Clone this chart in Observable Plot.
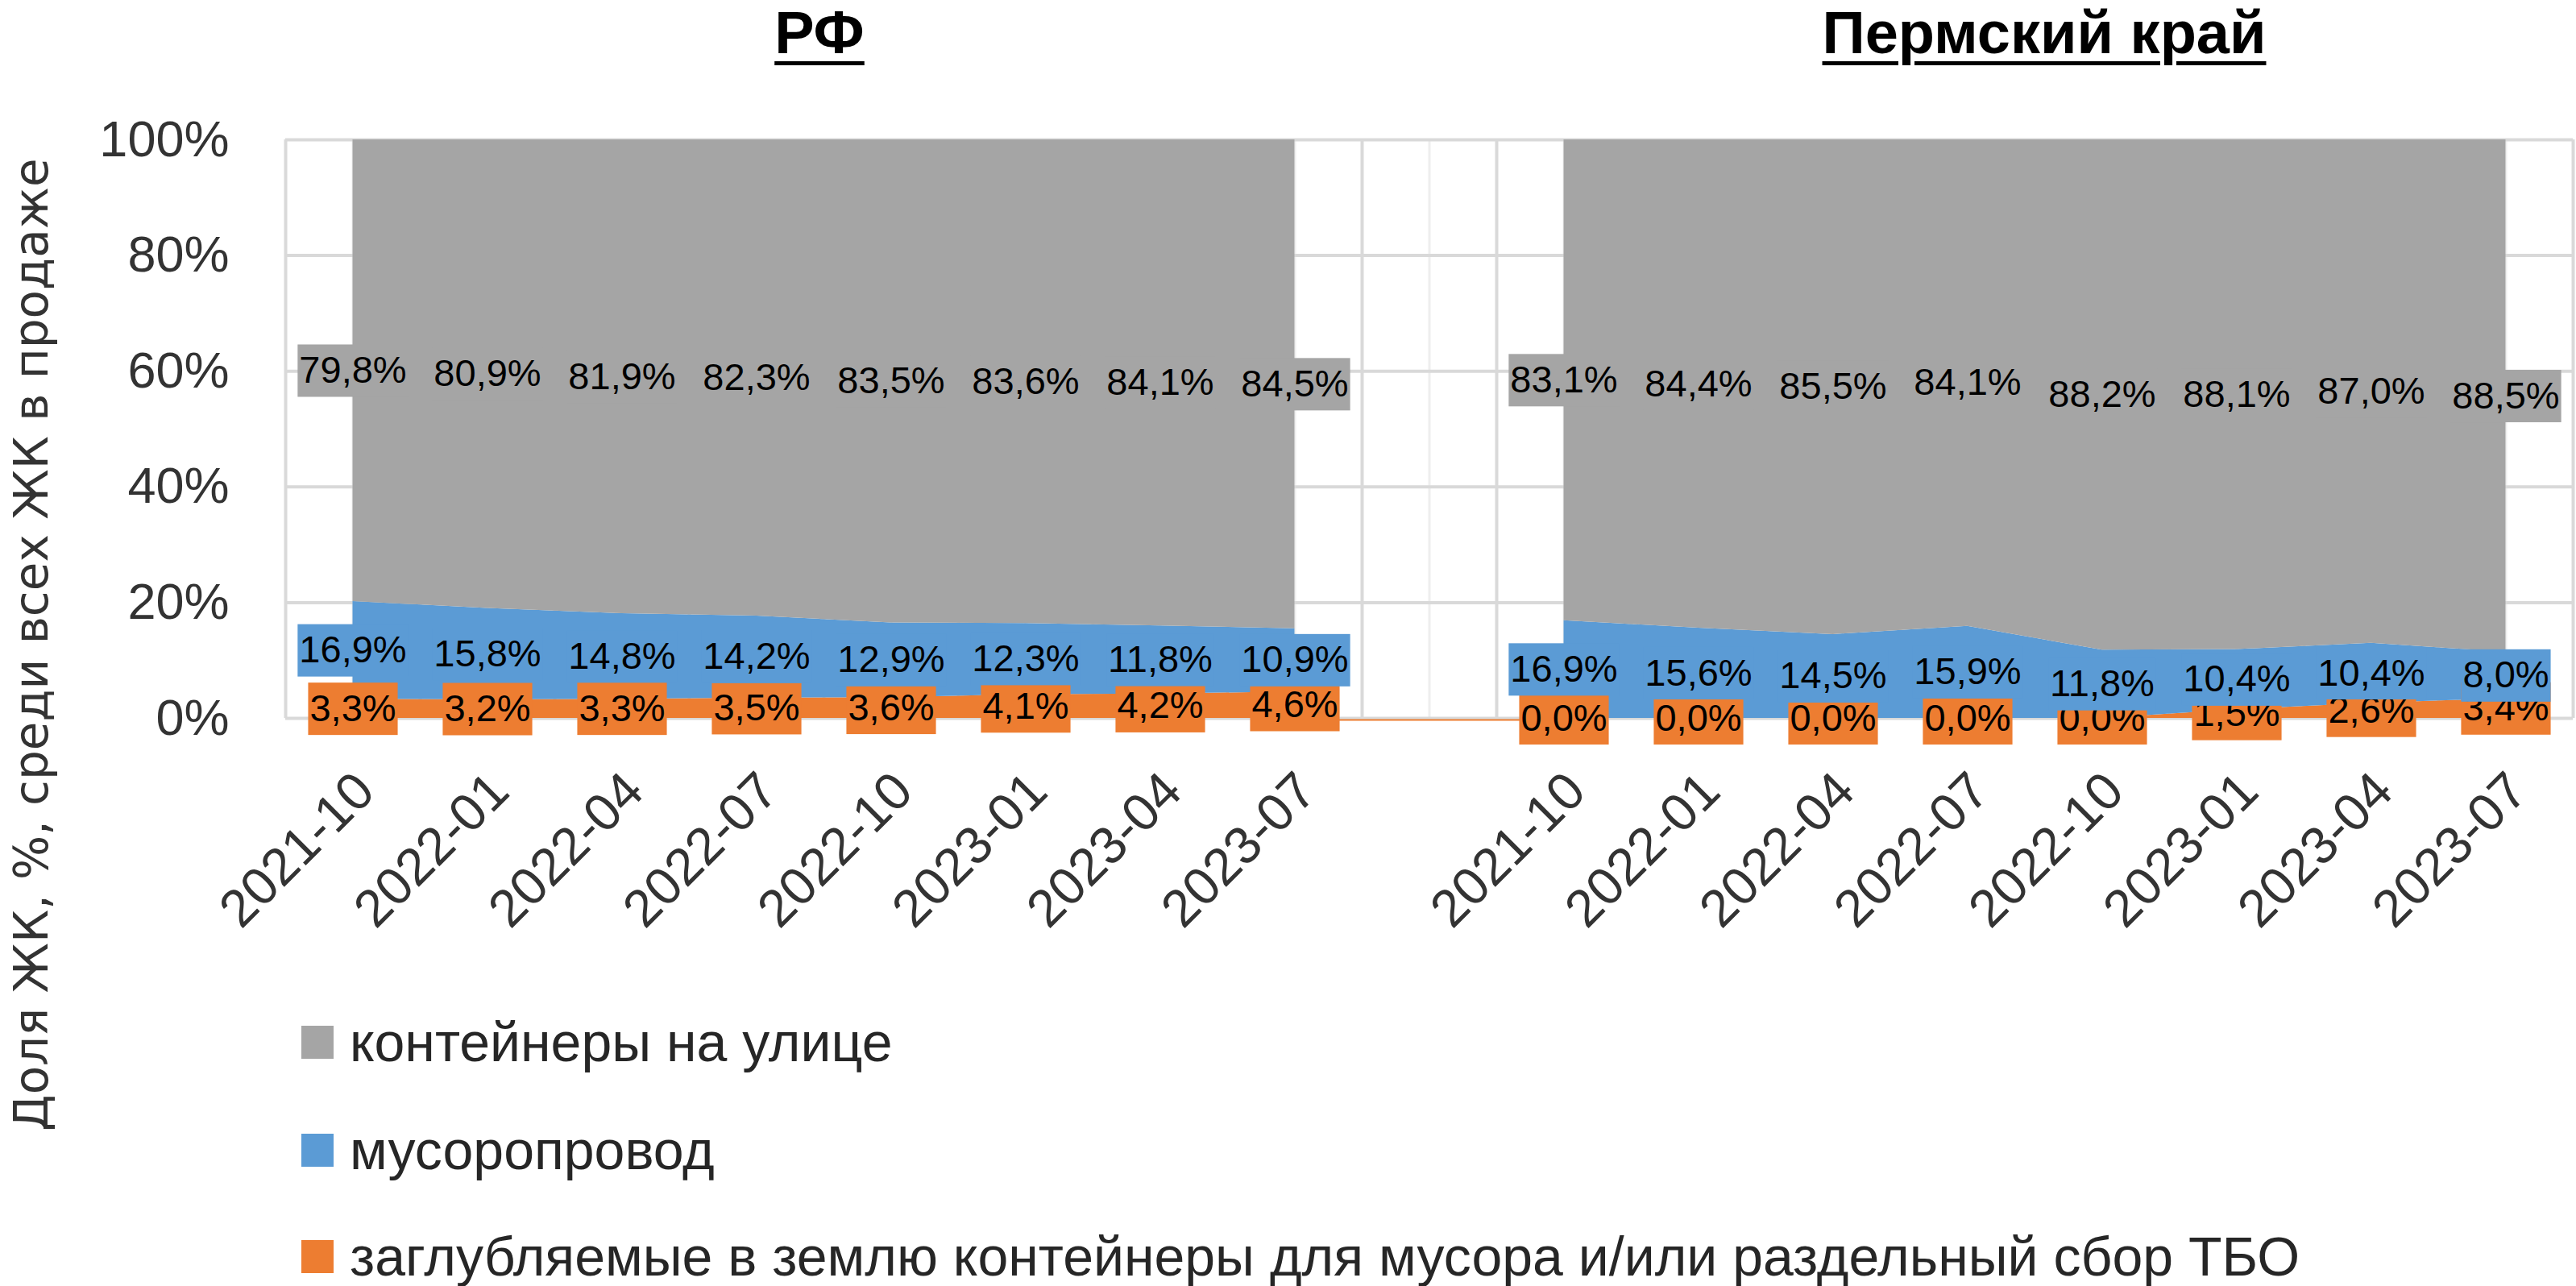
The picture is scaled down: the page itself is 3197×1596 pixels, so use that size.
<!DOCTYPE html>
<html><head><meta charset="utf-8">
<script src="https://cdn.jsdelivr.net/npm/d3@7"></script>
<script src="https://cdn.jsdelivr.net/npm/@observablehq/plot@0.6"></script>
<style>
body{margin:0;background:#fff;}
#wrap{position:relative;width:3197px;height:1596px;overflow:hidden;font-family:'Liberation Sans',Arial,sans-serif;background:#fff;}
.title{position:absolute;top:4px;font-weight:bold;font-size:74px;line-height:74px;text-decoration:underline;text-decoration-thickness:5px;text-underline-offset:10px;transform:translateX(-50%);white-space:nowrap;color:#000;}
.ytitle{position:absolute;left:39px;top:800px;transform:translate(-50%,-50%) rotate(-90deg);font-family:'DejaVu Sans',sans-serif;font-size:58px;line-height:58px;white-space:nowrap;color:#333;}
.leg{position:absolute;left:374px;height:70px;display:flex;align-items:center;font-size:68px;line-height:70px;color:#262626;white-space:nowrap;}
.leg .sw{width:40px;height:41px;margin-right:20px;flex:none;}
</style></head><body><div id="wrap"></div>
<script>
// ---- data ----
const periods = ["2021-10","2022-01","2022-04","2022-07","2022-10","2023-01","2023-04","2023-07"];
const regionNames = ["РФ", "Пермский край"];
const seriesNames = ["контейнеры на улице", "мусоропровод", "заглубляемые в землю контейнеры для мусора и/или раздельный сбор ТБО"];
const seriesColors = ["#A5A5A5", "#5B9BD5", "#ED7D31"];
const rfOutdoor     = [79.8, 80.9, 81.9, 82.3, 83.5, 83.6, 84.1, 84.5];
const rfChute       = [16.9, 15.8, 14.8, 14.2, 12.9, 12.3, 11.8, 10.9];
const rfUnderground = [3.3, 3.2, 3.3, 3.5, 3.6, 4.1, 4.2, 4.6];
const permOutdoor     = [83.1, 84.4, 85.5, 84.1, 88.2, 88.1, 87.0, 88.5];
const permChute       = [16.9, 15.6, 14.5, 15.9, 11.8, 10.4, 10.4, 8.0];
const permUnderground = [0.0, 0.0, 0.0, 0.0, 0.0, 1.5, 2.6, 3.4];
const yTicks = [0, 0.2, 0.4, 0.6, 0.8, 1];

// ---- table ----
const regionSeries = [
  [rfOutdoor, rfChute, rfUnderground],
  [permOutdoor, permChute, permUnderground]
];
const nPer = periods.length;
const nCats = nPer * 2 + 1; // one empty category between the regions
const catIndex = (r, j) => r * (nPer + 1) + j;
const rows = [];
const tickRows = [];
regionNames.forEach((reg, r) => {
  periods.forEach((p, j) => {
    const i = catIndex(r, j);
    tickRows.push({i, label: p});
    // bottom to top: underground, chute, outdoor
    [2, 1, 0].forEach(s => {
      rows.push({region: reg, period: p, i, series: seriesNames[s], key: reg + "|" + s, value: regionSeries[r][s][j]});
    });
  });
});
const fmt = v => v.toFixed(1).replace(".", ",") + "%";
const lastRF = catIndex(0, nPer - 1), firstPerm = catIndex(1, 0);

const labelMark = (s, cls) => Plot.text(rows, Plot.stackY({
  x: "i", y: "value", z: "key", offset: "normalize",
  text: d => d.series === seriesNames[s] ? fmt(d.value) : null,
  fontSize: 47, fill: "#000", className: cls
}));

const plot = Plot.plot({
  width: 3197, height: 1596,
  marginTop: 173, marginBottom: 705, marginLeft: 354, marginRight: 4,
  style: {fontFamily: "'Liberation Sans', Arial, sans-serif", fontSize: "63px", color: "#333", background: "transparent", overflow: "visible"},
  x: {type: "linear", domain: [-0.5, nCats - 0.5], axis: null},
  y: {domain: [0, 1], ticks: yTicks, tickFormat: d3.format(".0%"), tickSize: 0, tickPadding: 70, label: null},
  color: {domain: seriesNames, range: seriesColors},
  marks: [
    Plot.ruleX(d3.range(nCats).map(k => k), {stroke: "#eeeeee", strokeWidth: 3}),
    Plot.ruleX(d3.range(nCats + 1).map(k => k - 0.5), {stroke: "#d9d9d9", strokeWidth: 4}),
    Plot.ruleY(yTicks, {stroke: "#d9d9d9", strokeWidth: 4}),
    Plot.ruleY([0], {x1: lastRF, x2: firstPerm, stroke: seriesColors[2], strokeWidth: 2, dy: 2}),
    Plot.areaY(rows, Plot.stackY({x: "i", y: "value", z: "key", fill: "series", offset: "normalize", curve: "linear"})),
    labelMark(2, "lbl-under"),
    labelMark(1, "lbl-chute"),
    labelMark(0, "lbl-out"),
    Plot.text(tickRows, {x: "i", text: "label", frameAnchor: "bottom", rotate: -45, textAnchor: "end", dx: 30, dy: 94, fontSize: 65, fill: "#333"})
  ]
});
const wrap = document.getElementById("wrap");
wrap.appendChild(plot);

// label boxes
const textGroups = plot.querySelectorAll('g[aria-label="text"]');
[["lbl-under", 2, 0], ["lbl-chute", 1, 1], ["lbl-out", 0, 2]].forEach(([cls, s, k]) => {
  let g = plot.querySelector("g." + cls);
  if (!g) g = textGroups[k];
  if (!g) return;
  g.querySelectorAll("text").forEach(t => {
    const b = t.getBBox();
    const r = document.createElementNS("http://www.w3.org/2000/svg", "rect");
    r.setAttribute("x", b.x - 2);
    r.setAttribute("width", b.width + 4);
    r.setAttribute("y", -32.5);
    r.setAttribute("height", 65);
    r.setAttribute("fill", seriesColors[s]);
    const tr = t.getAttribute("transform");
    if (tr) r.setAttribute("transform", tr);
    t.parentNode.insertBefore(r, t);
  });
});

// titles
const titlePos = [1017, 2537];
regionNames.forEach((name, r) => {
  const d = document.createElement("div");
  d.className = "title";
  d.style.left = titlePos[r] + "px";
  d.textContent = name;
  wrap.appendChild(d);
});
// y title
const yt = document.createElement("div");
yt.className = "ytitle";
yt.textContent = "Доля ЖК, %, среди всех ЖК в продаже";
wrap.appendChild(yt);
// legend
const legCenters = [1293, 1427, 1559];
seriesNames.forEach((name, s) => {
  const row = document.createElement("div");
  row.className = "leg";
  row.style.top = (legCenters[s] - 35) + "px";
  const sw = document.createElement("div");
  sw.className = "sw";
  sw.style.background = seriesColors[s];
  const tx = document.createElement("span");
  tx.textContent = name;
  row.appendChild(sw); row.appendChild(tx);
  wrap.appendChild(row);
});
</script></body></html>
